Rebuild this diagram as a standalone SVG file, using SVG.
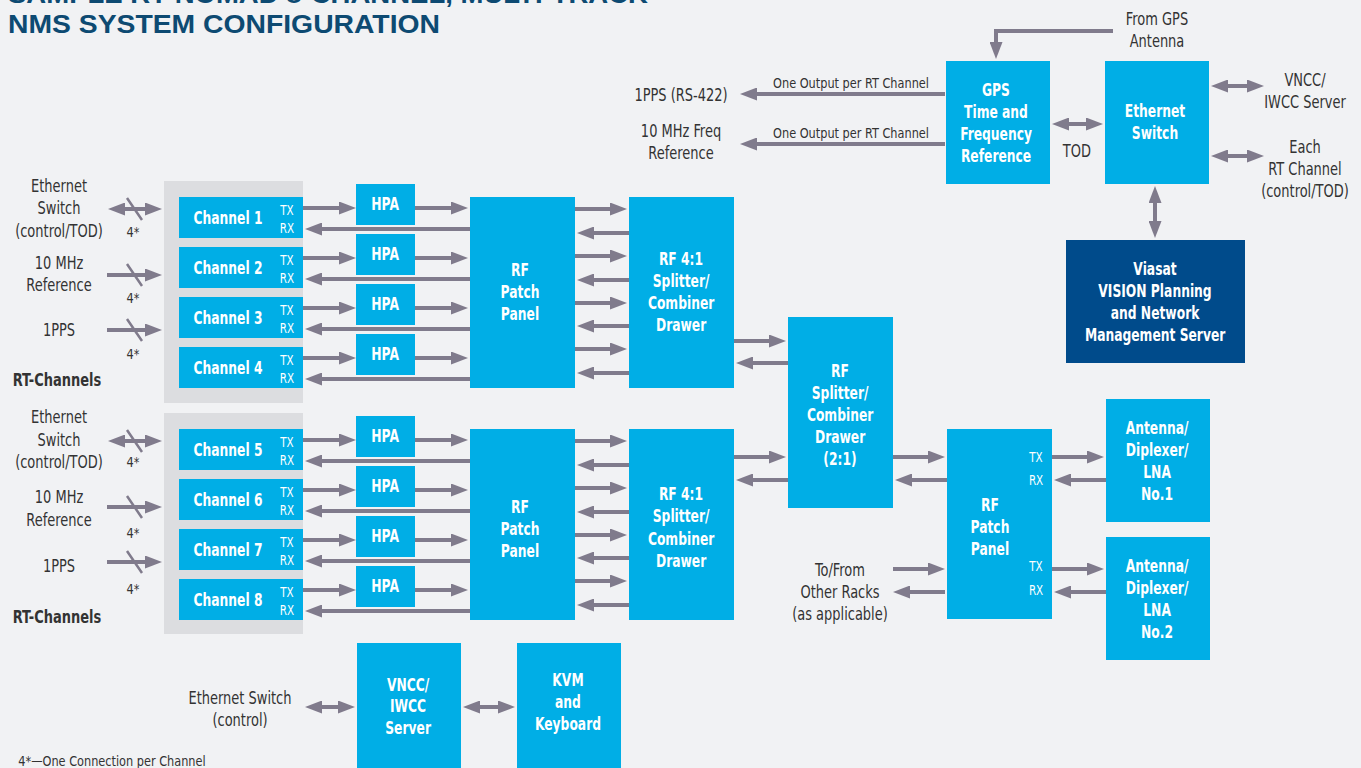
<svg xmlns="http://www.w3.org/2000/svg" width="1361" height="768" viewBox="0 0 1361 768">
<defs>
<style>
.bg{fill:#f1f2f4}
.box{fill:#00aee6}
.dark{fill:#004b8b}
.panel{fill:#dcdde0}
text{transform-box:fill-box;transform-origin:center}
.w{font-family:"Liberation Sans Narrow","DejaVu Sans Condensed",Roboto,sans-serif;font-weight:bold;font-size:18px;fill:#fff;text-anchor:middle;dominant-baseline:central;transform:scaleX(0.76)}
.s{font-family:"Liberation Sans Narrow","DejaVu Sans Condensed",Roboto,sans-serif;font-size:14px;fill:#fff;text-anchor:middle;dominant-baseline:central;transform:scaleX(0.82)}
.t{font-family:"Liberation Sans Narrow","DejaVu Sans Condensed",Roboto,sans-serif;font-size:17px;fill:#333;text-anchor:middle;dominant-baseline:central;transform:scaleX(0.85)}
.c{font-family:"Liberation Sans Narrow","DejaVu Sans Condensed",Roboto,sans-serif;font-size:14px;fill:#333;text-anchor:middle;dominant-baseline:central;transform:scaleX(0.9)}
.b{font-weight:bold}
.title{font-family:"Liberation Sans",Arial,sans-serif;font-weight:bold;font-size:26px;fill:#0d4a72}
.a{stroke:#807b8c;stroke-width:4;fill:none;marker-end:url(#ah)}
.d{stroke:#807b8c;stroke-width:4;fill:none;marker-start:url(#ah);marker-end:url(#ah)}
.sl{stroke:#807b8c;stroke-width:2.5}
</style>
<marker id="ah" markerUnits="userSpaceOnUse" markerWidth="17" markerHeight="13" refX="6" refY="6.5" orient="auto-start-reverse" viewBox="0 0 17 13"><path d="M0,0 L17,6.5 L0,13 z" fill="#807b8c"/></marker>
</defs>
<rect class="bg" x="0" y="0" width="1361" height="768"/>
<g id="title">
<text class="title" x="8" y="3" textLength="640" lengthAdjust="spacingAndGlyphs" style="transform:none">SAMPLE RT NOMAD 8-CHANNEL, MULTI-TRACK</text>
<text class="title" x="8" y="33" textLength="432" lengthAdjust="spacingAndGlyphs" style="transform:none">NMS SYSTEM CONFIGURATION</text>
</g>
<g id="panels">
<rect class="panel" x="164" y="181" width="139" height="222"/>
<rect class="panel" x="164" y="413" width="139" height="221"/>
</g>
<g id="channels">
<g id="ch1"><rect class="box" x="179" y="197" width="124" height="41"/><text class="w" x="228" y="218">Channel 1</text><text class="s" x="287" y="210">TX</text><text class="s" x="287" y="228">RX</text></g>
<g id="ch2"><rect class="box" x="179" y="247" width="124" height="41"/><text class="w" x="228" y="268">Channel 2</text><text class="s" x="287" y="260">TX</text><text class="s" x="287" y="278">RX</text></g>
<g id="ch3"><rect class="box" x="179" y="297" width="124" height="41"/><text class="w" x="228" y="318">Channel 3</text><text class="s" x="287" y="310">TX</text><text class="s" x="287" y="328">RX</text></g>
<g id="ch4"><rect class="box" x="179" y="347" width="124" height="41"/><text class="w" x="228" y="368">Channel 4</text><text class="s" x="287" y="360">TX</text><text class="s" x="287" y="378">RX</text></g>
<g id="ch5"><rect class="box" x="179" y="429" width="124" height="41"/><text class="w" x="228" y="450">Channel 5</text><text class="s" x="287" y="442">TX</text><text class="s" x="287" y="460">RX</text></g>
<g id="ch6"><rect class="box" x="179" y="479" width="124" height="41"/><text class="w" x="228" y="500">Channel 6</text><text class="s" x="287" y="492">TX</text><text class="s" x="287" y="510">RX</text></g>
<g id="ch7"><rect class="box" x="179" y="529" width="124" height="41"/><text class="w" x="228" y="550">Channel 7</text><text class="s" x="287" y="542">TX</text><text class="s" x="287" y="560">RX</text></g>
<g id="ch8"><rect class="box" x="179" y="579" width="124" height="41"/><text class="w" x="228" y="600">Channel 8</text><text class="s" x="287" y="592">TX</text><text class="s" x="287" y="610">RX</text></g>
</g>
<g id="hpas">
<g id="hpa1"><rect class="box" x="356" y="184" width="59" height="41"/><text class="w" x="385" y="204">HPA</text></g>
<g id="hpa2"><rect class="box" x="356" y="234" width="59" height="41"/><text class="w" x="385" y="254">HPA</text></g>
<g id="hpa3"><rect class="box" x="356" y="284" width="59" height="41"/><text class="w" x="385" y="304">HPA</text></g>
<g id="hpa4"><rect class="box" x="356" y="334" width="59" height="41"/><text class="w" x="385" y="354">HPA</text></g>
<g id="hpa5"><rect class="box" x="356" y="416" width="59" height="41"/><text class="w" x="385" y="436">HPA</text></g>
<g id="hpa6"><rect class="box" x="356" y="466" width="59" height="41"/><text class="w" x="385" y="486">HPA</text></g>
<g id="hpa7"><rect class="box" x="356" y="516" width="59" height="41"/><text class="w" x="385" y="536">HPA</text></g>
<g id="hpa8"><rect class="box" x="356" y="566" width="59" height="41"/><text class="w" x="385" y="586">HPA</text></g>
</g>
<g id="rfpatch1"><rect class="box" x="470" y="197" width="105" height="191"/><text class="w" x="520" y="270">RF</text><text class="w" x="520" y="292">Patch</text><text class="w" x="520" y="314">Panel</text></g>
<g id="rfpatch2"><rect class="box" x="470" y="429" width="105" height="191"/><text class="w" x="520" y="507">RF</text><text class="w" x="520" y="529">Patch</text><text class="w" x="520" y="551">Panel</text></g>
<g id="split1"><rect class="box" x="629" y="197" width="105" height="191"/><text class="w" x="681" y="259">RF 4:1</text><text class="w" x="681" y="281">Splitter/</text><text class="w" x="681" y="303">Combiner</text><text class="w" x="681" y="325">Drawer</text></g>
<g id="split2"><rect class="box" x="629" y="429" width="105" height="191"/><text class="w" x="681" y="494">RF 4:1</text><text class="w" x="681" y="516">Splitter/</text><text class="w" x="681" y="539">Combiner</text><text class="w" x="681" y="561">Drawer</text></g>
<g id="split21"><rect class="box" x="788" y="317" width="105" height="191"/><text class="w" x="840" y="371">RF</text><text class="w" x="840" y="393">Splitter/</text><text class="w" x="840" y="415">Combiner</text><text class="w" x="840" y="437">Drawer</text><text class="w" x="840" y="459">(2:1)</text></g>
<g id="rfpatch3"><rect class="box" x="947" y="429" width="105" height="190"/><text class="w" x="990" y="505">RF</text><text class="w" x="990" y="527">Patch</text><text class="w" x="990" y="549">Panel</text><text class="s" x="1036" y="457">TX</text><text class="s" x="1036" y="480">RX</text><text class="s" x="1036" y="566">TX</text><text class="s" x="1036" y="590">RX</text></g>
<g id="ant1"><rect class="box" x="1106" y="399" width="104" height="123"/><text class="w" x="1157" y="428">Antenna/</text><text class="w" x="1157" y="450">Diplexer/</text><text class="w" x="1157" y="472">LNA</text><text class="w" x="1157" y="494">No.1</text></g>
<g id="ant2"><rect class="box" x="1106" y="537" width="104" height="123"/><text class="w" x="1157" y="566">Antenna/</text><text class="w" x="1157" y="588">Diplexer/</text><text class="w" x="1157" y="610">LNA</text><text class="w" x="1157" y="632">No.2</text></g>
<g id="gps"><rect class="box" x="946" y="61" width="104" height="123"/><text class="w" x="996" y="90">GPS</text><text class="w" x="996" y="112">Time and</text><text class="w" x="996" y="134">Frequency</text><text class="w" x="996" y="156">Reference</text></g>
<g id="ethsw"><rect class="box" x="1105" y="61" width="104" height="123"/><text class="w" x="1155" y="111">Ethernet</text><text class="w" x="1155" y="133">Switch</text></g>
<g id="viasat"><rect class="dark" x="1066" y="240" width="179" height="123"/><text class="w" x="1155" y="269">Viasat</text><text class="w" x="1155" y="291">VISION Planning</text><text class="w" x="1155" y="313">and Network</text><text class="w" x="1155" y="335">Management Server</text></g>
<g id="vncc"><rect class="box" x="357" y="643" width="104" height="125"/><text class="w" x="408" y="685">VNCC/</text><text class="w" x="408" y="706">IWCC</text><text class="w" x="408" y="728">Server</text></g>
<g id="kvm"><rect class="box" x="517" y="643" width="104" height="125"/><text class="w" x="568" y="680">KVM</text><text class="w" x="568" y="702">and</text><text class="w" x="568" y="724">Keyboard</text></g>
<g id="labels">
<text class="t" x="59" y="186">Ethernet</text><text class="t" x="59" y="208">Switch</text><text class="t" x="59" y="231">(control/TOD)</text>
<text class="t" x="59" y="263">10 MHz</text><text class="t" x="59" y="285">Reference</text>
<text class="t" x="59" y="330">1PPS</text>
<text class="t b" x="57" y="380">RT-Channels</text>
<text class="c" x="133" y="232">4*</text><text class="c" x="133" y="298">4*</text><text class="c" x="133" y="354">4*</text>
<text class="t" x="59" y="417">Ethernet</text><text class="t" x="59" y="440">Switch</text><text class="t" x="59" y="462">(control/TOD)</text>
<text class="t" x="59" y="497">10 MHz</text><text class="t" x="59" y="520">Reference</text>
<text class="t" x="59" y="566">1PPS</text>
<text class="t b" x="57" y="617">RT-Channels</text>
<text class="c" x="133" y="462">4*</text><text class="c" x="133" y="533">4*</text><text class="c" x="133" y="589">4*</text>
<text class="c" x="851" y="83">One Output per RT Channel</text>
<text class="c" x="851" y="133">One Output per RT Channel</text>
<text class="t" x="681" y="95">1PPS (RS-422)</text>
<text class="t" x="681" y="131">10 MHz Freq</text><text class="t" x="681" y="153">Reference</text>
<text class="t" x="1157" y="19">From GPS</text><text class="t" x="1157" y="41">Antenna</text>
<text class="t" x="1077" y="151">TOD</text>
<text class="t" x="1305" y="80">VNCC/</text><text class="t" x="1305" y="102">IWCC Server</text>
<text class="t" x="1305" y="147">Each</text><text class="t" x="1305" y="169">RT Channel</text><text class="t" x="1305" y="191">(control/TOD)</text>
<text class="t" x="840" y="570">To/From</text><text class="t" x="840" y="592">Other Racks</text><text class="t" x="840" y="614">(as applicable)</text>
<text class="t" x="240" y="698">Ethernet Switch</text><text class="t" x="240" y="720">(control)</text>
<text class="c" x="112" y="761">4*—One Connection per Channel</text>
</g>
<g id="connectors">
<path class="a" d="M303,208H345"/><path class="a" d="M303,258H345"/><path class="a" d="M303,308H345"/><path class="a" d="M303,358H345"/>
<path class="a" d="M303,440H345"/><path class="a" d="M303,490H345"/><path class="a" d="M303,540H345"/><path class="a" d="M303,590H345"/>
<path class="a" d="M415,208H457"/><path class="a" d="M415,258H457"/><path class="a" d="M415,308H457"/><path class="a" d="M415,358H457"/>
<path class="a" d="M415,440H457"/><path class="a" d="M415,490H457"/><path class="a" d="M415,540H457"/><path class="a" d="M415,590H457"/>
<path class="a" d="M470,229H316"/><path class="a" d="M470,279H316"/><path class="a" d="M470,329H316"/><path class="a" d="M470,379H316"/>
<path class="a" d="M470,461H316"/><path class="a" d="M470,511H316"/><path class="a" d="M470,561H316"/><path class="a" d="M470,611H316"/>
<path class="a" d="M575,209H616"/><path class="a" d="M575,256H616"/><path class="a" d="M575,303H616"/><path class="a" d="M575,349H616"/>
<path class="a" d="M575,441H616"/><path class="a" d="M575,488H616"/><path class="a" d="M575,535H616"/><path class="a" d="M575,581H616"/>
<path class="a" d="M629,233H588"/><path class="a" d="M629,280H588"/><path class="a" d="M629,326H588"/><path class="a" d="M629,373H588"/>
<path class="a" d="M629,465H588"/><path class="a" d="M629,512H588"/><path class="a" d="M629,558H588"/><path class="a" d="M629,605H588"/>
<path class="a" d="M734,341H775"/><path class="a" d="M788,363H747"/><path class="a" d="M734,457H775"/><path class="a" d="M788,480H747"/>
<path class="a" d="M893,457H934"/><path class="a" d="M947,480H906"/>
<path class="a" d="M1052,457H1093"/><path class="a" d="M1106,480H1065"/><path class="a" d="M1052,569H1093"/><path class="a" d="M1106,592H1065"/>
<path class="a" d="M893,569H934"/><path class="a" d="M945,592H904"/>
<path class="d" d="M119,209H151"/><path class="d" d="M119,441H151"/>
<path class="a" d="M107,275H151"/><path class="a" d="M107,330H151"/><path class="a" d="M107,507H151"/><path class="a" d="M107,562H151"/>
<path class="sl" d="M127,198L142,220M127,264L142,286M127,319L142,341M127,430L142,452M127,496L142,518M127,551L142,573"/>
<path class="a" d="M945,94H751"/><path class="a" d="M945,144H751"/>
<path class="a" d="M1113,31H996V48"/>
<path class="d" d="M1063,124H1092"/><path class="d" d="M1222,86H1253"/><path class="d" d="M1222,156H1253"/><path class="d" d="M1155,197V227"/><path class="d" d="M316,707H344"/><path class="d" d="M474,707H504"/>
</g>
</svg>
